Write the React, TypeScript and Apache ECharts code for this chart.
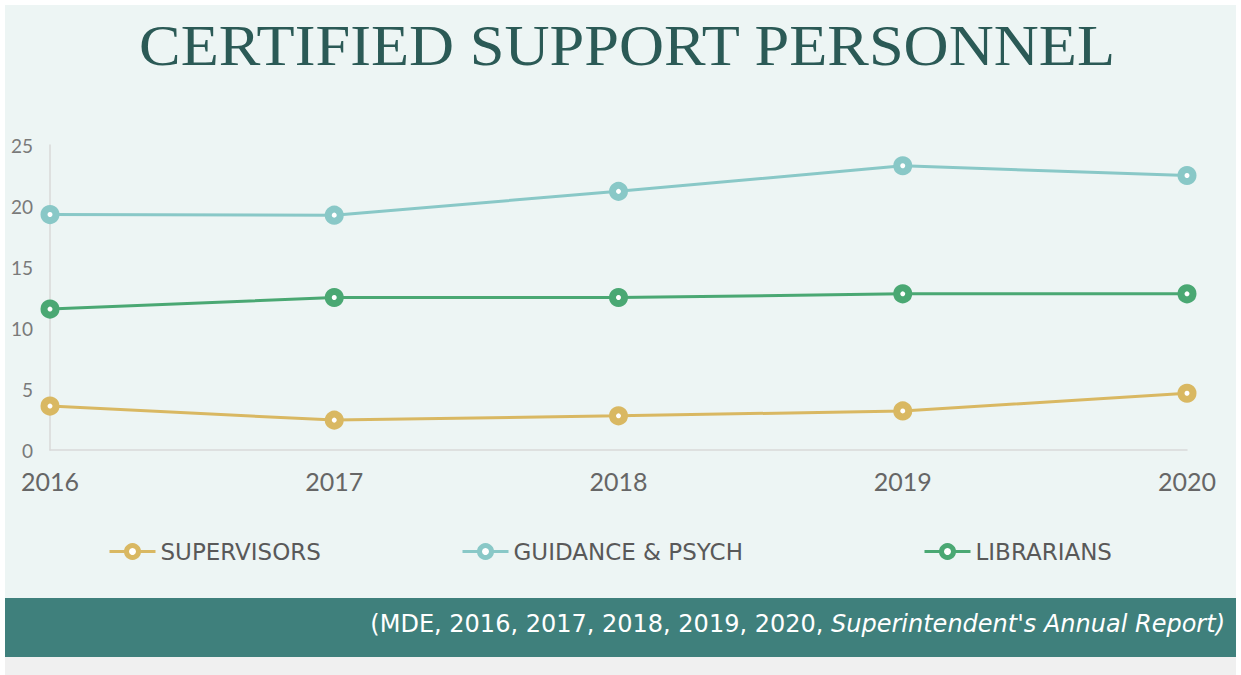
import React, { useEffect, useRef } from "react";
import * as echarts from "echarts";

const years = ["2016", "2017", "2018", "2019", "2020"];
const supervisors = [3.6, 2.45, 2.8, 3.2, 4.65];
const guidance = [19.3, 19.25, 21.2, 23.3, 22.5];
const librarians = [11.55, 12.5, 12.5, 12.8, 12.8];
const seriesNames = ["SUPERVISORS", "GUIDANCE & PSYCH", "LIBRARIANS"];
const colors = ["#d9b862", "#89c8c7", "#4aa873"];
const yTicks = { min: 0, max: 25, interval: 5 };

export default function App() {
  const ref = useRef<HTMLDivElement>(null);
  useEffect(() => {
    document.body.style.margin = "0";
    const chart = echarts.init(ref.current!, null, { renderer: "svg" });
    const sans = "Lato";
    const wide = "DejaVu Sans";
    const mk = (name: string, data: number[], color: string) => ({
      name,
      type: "line",
      data,
      symbol: "circle",
      symbolSize: 12,
      lineStyle: { color, width: 3 },
      itemStyle: { color: "#ffffff", borderColor: color, borderWidth: 7 },
      emphasis: { disabled: true },
      z: 3,
    });
    const legendLefts = [103, 456, 918];
    chart.setOption({
      animation: false,
      backgroundColor: "#ffffff",
      graphic: [
        { type: "rect", shape: { x: 5, y: 5, width: 1231, height: 593 }, style: { fill: "#edf5f4" }, z: -10 },
        { type: "rect", shape: { x: 5, y: 598, width: 1231, height: 59 }, style: { fill: "#3f807c" }, z: -10 },
        { type: "rect", shape: { x: 5, y: 657, width: 1231, height: 18 }, style: { fill: "#f0f0f0" }, z: -10 },
        {
          type: "text",
          x: 627,
          y: 46,
          scaleX: 1.2,
          scaleY: 1.08,
          style: {
            text: "CERTIFIED SUPPORT PERSONNEL",
            font: "normal 52px 'Liberation Serif'",
            fill: "#2b5a56",
            align: "center",
            verticalAlign: "middle",
          },
        },
        {
          type: "text",
          x: 1225,
          y: 624,
          style: {
            text: "{n|(MDE, 2016, 2017, 2018, 2019, 2020, }{i|Superintendent's Annual Report)}",
            align: "right",
            verticalAlign: "middle",
            rich: {
              n: { fontFamily: wide, fontSize: 24, fill: "#ffffff", color: "#ffffff" },
              i: { fontFamily: wide, fontSize: 24, fontStyle: "italic", fill: "#ffffff", color: "#ffffff" },
            },
          },
        },
      ],
      color: colors,
      grid: { left: 50, right: 54, top: 145, bottom: 225 },
      legend: seriesNames.map((n, i) => ({
        top: 535,
        left: legendLefts[i],
        itemWidth: 46,
        itemHeight: 15,
        itemGap: 6,
        itemStyle: { borderWidth: 5 },
        lineStyle: { width: 3 },
        textStyle: { fontFamily: wide, fontSize: 23, color: "#595959" },
        data: [n],
      })),
      xAxis: {
        type: "category",
        data: years,
        boundaryGap: false,
        axisLine: { lineStyle: { color: "#d9d9d9", width: 1.5 } },
        axisTick: { show: false },
        axisLabel: { fontFamily: sans, fontSize: 25, color: "#666666", margin: 18 },
      },
      yAxis: {
        type: "value",
        min: yTicks.min,
        max: yTicks.max,
        interval: yTicks.interval,
        splitLine: { show: false },
        axisLine: { show: true, lineStyle: { color: "#d9d9d9", width: 1.5 } },
        axisTick: { show: false },
        axisLabel: { fontFamily: sans, fontSize: 19, color: "#7a7a7a", margin: 17 },
      },
      series: [
        mk(seriesNames[0], supervisors, colors[0]),
        mk(seriesNames[1], guidance, colors[1]),
        mk(seriesNames[2], librarians, colors[2]),
      ],
    });
    return () => chart.dispose();
  }, []);
  return <div ref={ref} style={{ position: "fixed", left: 0, top: 0, width: 1241, height: 675 }} />;
}
